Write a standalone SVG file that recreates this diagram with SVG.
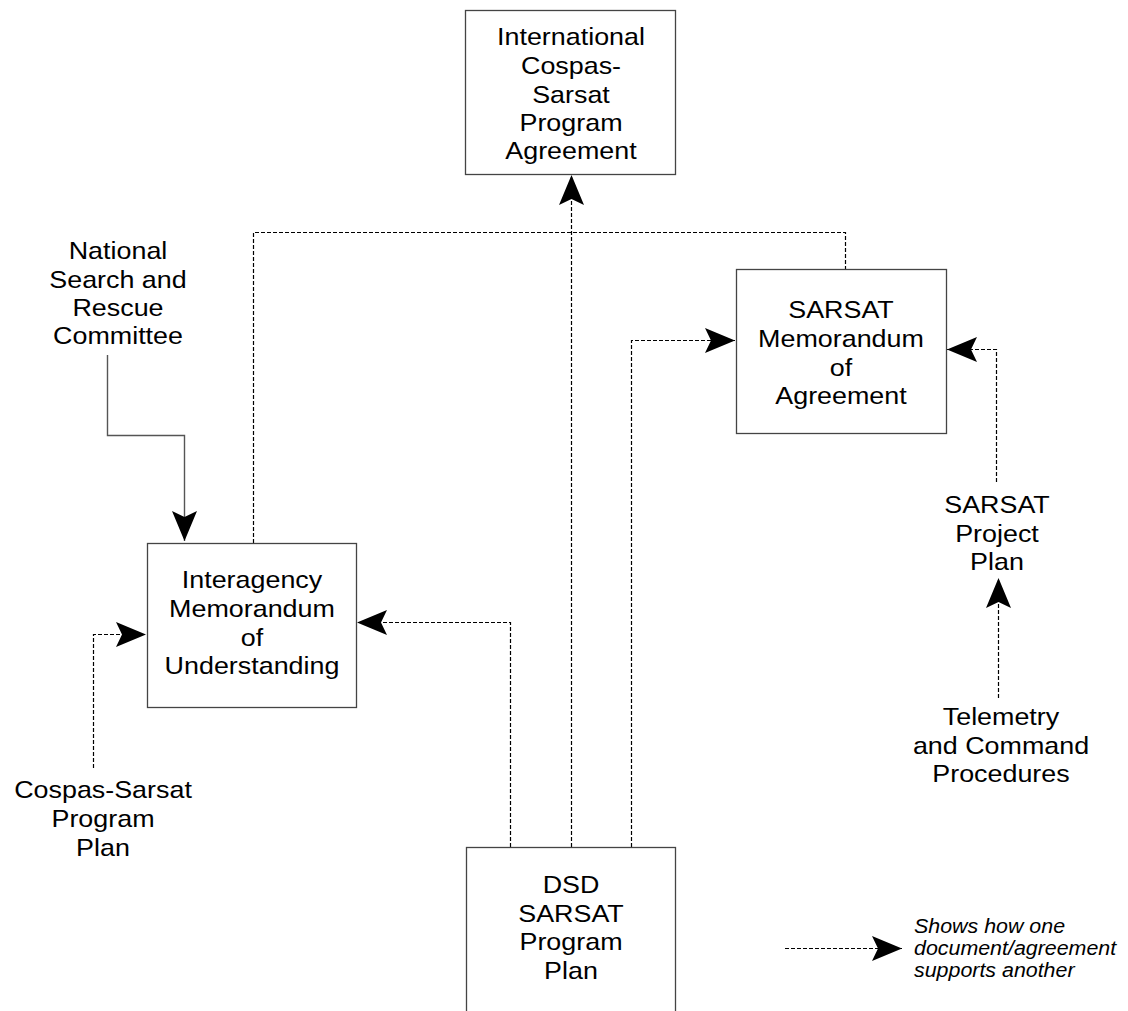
<svg xmlns="http://www.w3.org/2000/svg" width="1128" height="1011" viewBox="0 0 1128 1011">
<style>
.box{fill:#fff;stroke:#444;stroke-width:1.3}
.t{font-family:"Liberation Sans",Arial,sans-serif;font-size:24px;fill:#000;text-anchor:middle}
.lg{font-family:"Liberation Sans",Arial,sans-serif;font-size:20px;font-style:italic;fill:#000}
.dash{fill:none;stroke:#000;stroke-width:1.2;stroke-dasharray:4 2}
.solid{fill:none;stroke:#555;stroke-width:1.4}
</style>
<defs>
<marker id="ah" markerUnits="userSpaceOnUse" viewBox="-31 -13 32 26" refX="0" refY="0" markerWidth="32" markerHeight="26" orient="auto">
<path d="M0,0 L-30,-12.5 L-24,0 L-30,12.5 Z" fill="#000"/>
</marker>
</defs>
<rect width="1128" height="1011" fill="#fff"/>
<g id="connectors">
<path class="dash" d="M571.5,847 V175" marker-end="url(#ah)"/>
<path class="dash" d="M253.5,543 V232.5 H845.5 V269"/>
<path class="dash" d="M631.5,847 V340.5 H735" marker-end="url(#ah)"/>
<path class="dash" d="M510.5,847 V622.5 H357" marker-end="url(#ah)"/>
<path class="dash" d="M93.5,768 V634.5 H146" marker-end="url(#ah)"/>
<path class="dash" d="M996.5,482 V349.5 H947" marker-end="url(#ah)"/>
<path class="dash" d="M998.5,698 V578" marker-end="url(#ah)"/>
<path class="solid" d="M107.5,355 V435.5 H184.5 V541" marker-end="url(#ah)"/>
<path class="dash" d="M785,948.5 H902" marker-end="url(#ah)"/>
</g>
<g id="international">
<rect class="box" x="465.5" y="10.5" width="210" height="164"/>
<g transform="translate(571,0) scale(1.12,1)">
<text class="t" x="0" y="45">International</text>
<text class="t" x="0" y="74">Cospas-</text>
<text class="t" x="0" y="103">Sarsat</text>
<text class="t" x="0" y="131">Program</text>
<text class="t" x="0" y="159">Agreement</text>
</g>
</g>
<g id="moa">
<rect class="box" x="736.5" y="269.5" width="210" height="164"/>
<g transform="translate(841,0) scale(1.12,1)">
<text class="t" x="0" y="318">SARSAT</text>
<text class="t" x="0" y="347">Memorandum</text>
<text class="t" x="0" y="376">of</text>
<text class="t" x="0" y="404">Agreement</text>
</g>
</g>
<g id="imou">
<rect class="box" x="147.5" y="543.5" width="209" height="164"/>
<g transform="translate(252,0) scale(1.12,1)">
<text class="t" x="0" y="588">Interagency</text>
<text class="t" x="0" y="617">Memorandum</text>
<text class="t" x="0" y="646">of</text>
<text class="t" x="0" y="674">Understanding</text>
</g>
</g>
<g id="dsd">
<rect class="box" x="466.5" y="847.5" width="209" height="190"/>
<g transform="translate(571,0) scale(1.12,1)">
<text class="t" x="0" y="893">DSD</text>
<text class="t" x="0" y="922">SARSAT</text>
<text class="t" x="0" y="950">Program</text>
<text class="t" x="0" y="979">Plan</text>
</g>
</g>
<g id="nsarc">
<g transform="translate(118,0) scale(1.12,1)">
<text class="t" x="0" y="259">National</text>
<text class="t" x="0" y="288">Search and</text>
<text class="t" x="0" y="316">Rescue</text>
<text class="t" x="0" y="344">Committee</text>
</g>
</g>
<g id="cospas-plan">
<g transform="translate(103,0) scale(1.12,1)">
<text class="t" x="0" y="798">Cospas-Sarsat</text>
<text class="t" x="0" y="827">Program</text>
<text class="t" x="0" y="856">Plan</text>
</g>
</g>
<g id="project-plan">
<g transform="translate(997,0) scale(1.12,1)">
<text class="t" x="0" y="513">SARSAT</text>
<text class="t" x="0" y="542">Project</text>
<text class="t" x="0" y="570">Plan</text>
</g>
</g>
<g id="telemetry">
<g transform="translate(1001,0) scale(1.12,1)">
<text class="t" x="0" y="725">Telemetry</text>
<text class="t" x="0" y="754">and Command</text>
<text class="t" x="0" y="782">Procedures</text>
</g>
</g>
<g id="legend">
<g transform="translate(914,0) scale(1.07,1)">
<text class="lg" x="0" y="933">Shows how one</text>
<text class="lg" x="0" y="955">document/agreement</text>
<text class="lg" x="0" y="977">supports another</text>
</g>
</g>
</svg>
